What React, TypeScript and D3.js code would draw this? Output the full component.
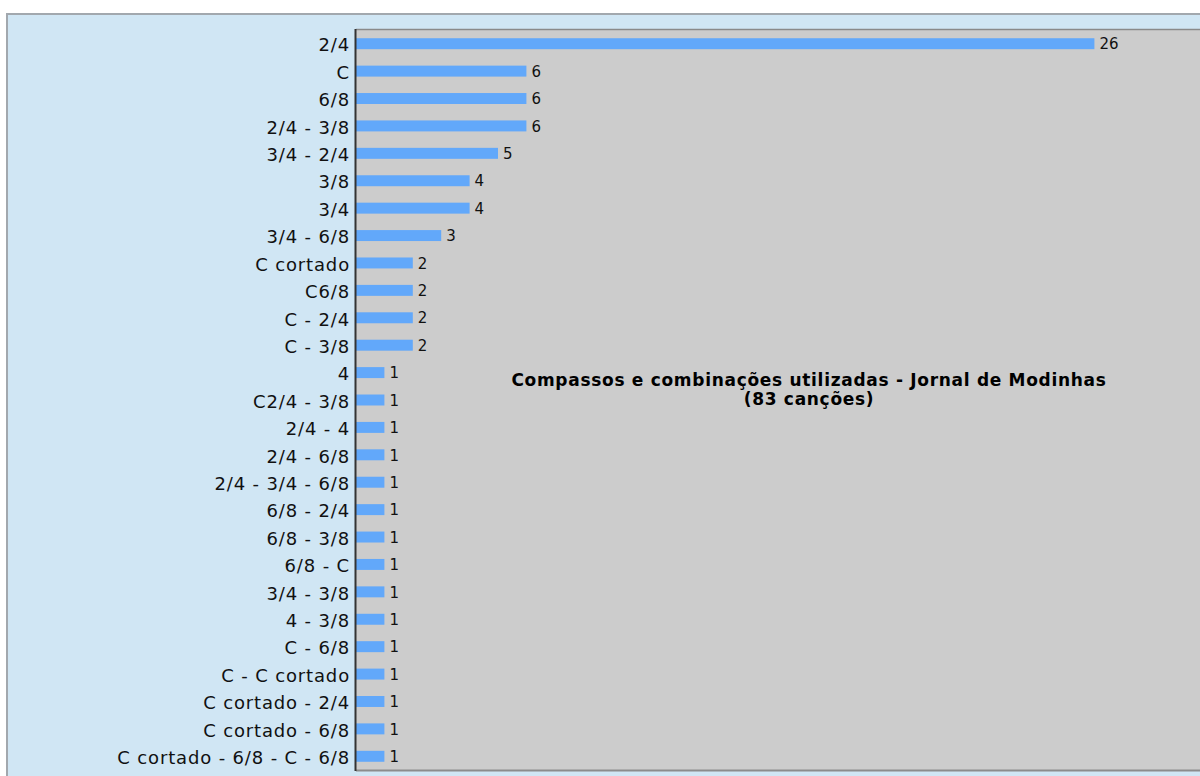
import React from "react";
import * as d3 from "d3";

const categories = [
  "2/4", "C", "6/8", "2/4 - 3/8", "3/4 - 2/4", "3/8", "3/4", "3/4 - 6/8",
  "C cortado", "C6/8", "C - 2/4", "C - 3/8", "4", "C2/4 - 3/8", "2/4 - 4",
  "2/4 - 6/8", "2/4 - 3/4 - 6/8", "6/8 - 2/4", "6/8 - 3/8", "6/8 - C",
  "3/4 - 3/8", "4 - 3/8", "C - 6/8", "C - C cortado", "C cortado - 2/4",
  "C cortado - 6/8", "C cortado - 6/8 - C - 6/8",
];
const counts = [26, 6, 6, 6, 5, 4, 4, 3, 2, 2, 2, 2, 1, 1, 1, 1, 1, 1, 1, 1, 1, 1, 1, 1, 1, 1, 1];
const titleLines = ["Compassos e combinações utilizadas - Jornal de Modinhas", "(83 canções)"];

const W = 1200;
const H = 776;
const plot = { left: 356, top: 30, right: 1208, bottom: 770 };
const font = "'DejaVu Sans', Verdana, sans-serif";

export default function App() {
  const x = d3.scaleLinear().domain([0, 30]).range([plot.left, plot.right]);
  const y = d3
    .scaleBand<string>()
    .domain(categories)
    .range([plot.top, plot.bottom])
    .paddingInner(0.6)
    .paddingOuter(0.3);
  const bh = y.bandwidth();

  return (
    <svg
      width={W}
      height={H}
      style={{ position: "absolute", left: 0, top: 0, display: "block" }}
      fontFamily={font}
    >
      <rect x={0} y={0} width={W} height={H} fill="#ffffff" />
      <rect x={7} y={14} width={W + 20} height={H + 20} fill="#d0e6f4" stroke="#a2a8ae" strokeWidth={2} />
      <rect x={plot.left} y={plot.top} width={plot.right - plot.left} height={plot.bottom - plot.top} fill="#cccccc" />
      <line x1={plot.left} x2={W} y1={plot.top - 0.5} y2={plot.top - 0.5} stroke="#8a8a8a" strokeWidth={1.5} />
      <line x1={plot.left} x2={W} y1={plot.bottom + 0.5} y2={plot.bottom + 0.5} stroke="#8c8c8c" strokeWidth={2} />
      {categories.map((c, i) => {
        const yy = y(c)!;
        return (
          <g key={c}>
            <rect x={x(0)} y={yy} width={x(counts[i]) - x(0)} height={bh} fill="#62a8fa" />
            <text x={x(counts[i]) + 5} y={yy + bh / 2} dy="0.38em" fontSize={15} fill="#111">
              {counts[i]}
            </text>
            <text
              x={plot.left - 6}
              y={yy + bh / 2}
              dy="0.43em"
              fontSize={18}
              letterSpacing={0.85}
              textAnchor="end"
              fill="#111"
            >
              {c}
            </text>
          </g>
        );
      })}
      <line x1={plot.left - 0.5} x2={plot.left - 0.5} y1={plot.top - 1} y2={plot.bottom + 1} stroke="#333" strokeWidth={2} />
      {titleLines.map((t, i) => (
        <text
          key={i}
          x={809}
          y={386 + i * 19}
          fontSize={17}
          letterSpacing={0.7}
          fontWeight="bold"
          textAnchor="middle"
          fill="#000"
        >
          {t}
        </text>
      ))}
    </svg>
  );
}
